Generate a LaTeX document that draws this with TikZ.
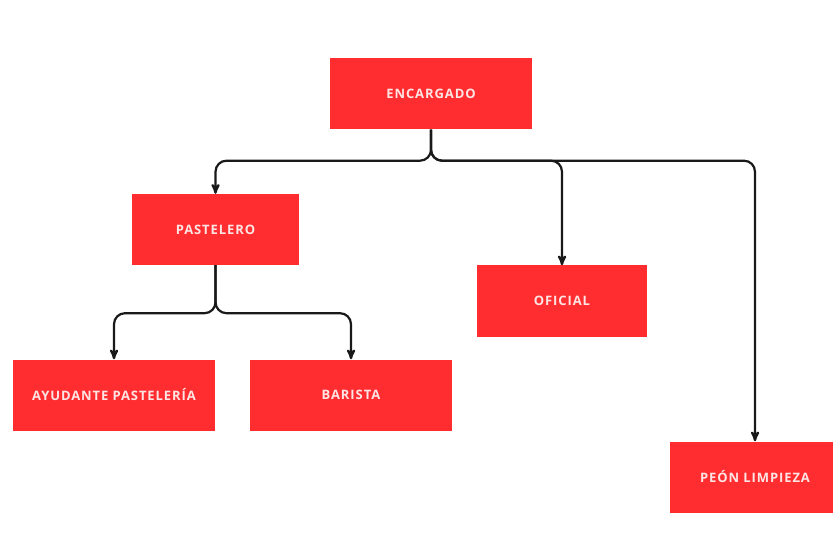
\documentclass[tikz,border=0pt]{standalone}
\usepackage{fontspec}
\setmainfont{Open Sans}
\usetikzlibrary{arrows}
\definecolor{cargo}{HTML}{FF2D30}
\definecolor{rotulo}{HTML}{FFE4E4}
\tikzset{puesto/.style={fill=cargo,draw=none,rectangle,minimum height=71pt,
    text=rotulo,font=\bfseries\fontsize{13}{15}\selectfont\addfontfeatures{LetterSpace=7},
    inner sep=0pt}}

\begin{document}
\begin{tikzpicture}[x=1pt,y=1pt,
    conn/.style = {-stealth', line width=2.2pt, black!90, rounded corners=11pt}]
    \useasboundingbox (0,0) rectangle (833,539);
    \node[puesto, minimum width=202pt] (enc) at (431,445) {ENCARGADO};
    \node[puesto, minimum width=167pt] (past) at (215.5,309.5) {PASTELERO};
    \node[puesto, minimum width=170pt] (ofi) at (562,238) {OFICIAL};
    \node[puesto, minimum width=202pt] (ayud) at (114,144) {AYUDANTE PASTELERÍA};
    \node[puesto, minimum width=202pt] (bar) at (351,144) {BARISTA};
    \node[puesto, minimum width=170pt] (peon) at (755,62) {PEÓN LIMPIEZA};
    % del encargado
    \draw[conn] (enc.south) -- ++(0,-31) -| (past.north);
    \draw[conn] (enc.south) -- ++(0,-31) -| (ofi.north);
    \draw[conn] (enc.south) -- ++(0,-31) -| (peon.north);
    % del pastelero
    \draw[conn] (past.south) -- ++(0,-48) -| (ayud.north);
    \draw[conn] (past.south) -- ++(0,-48) -| (bar.north);
\end{tikzpicture}
\end{document}
